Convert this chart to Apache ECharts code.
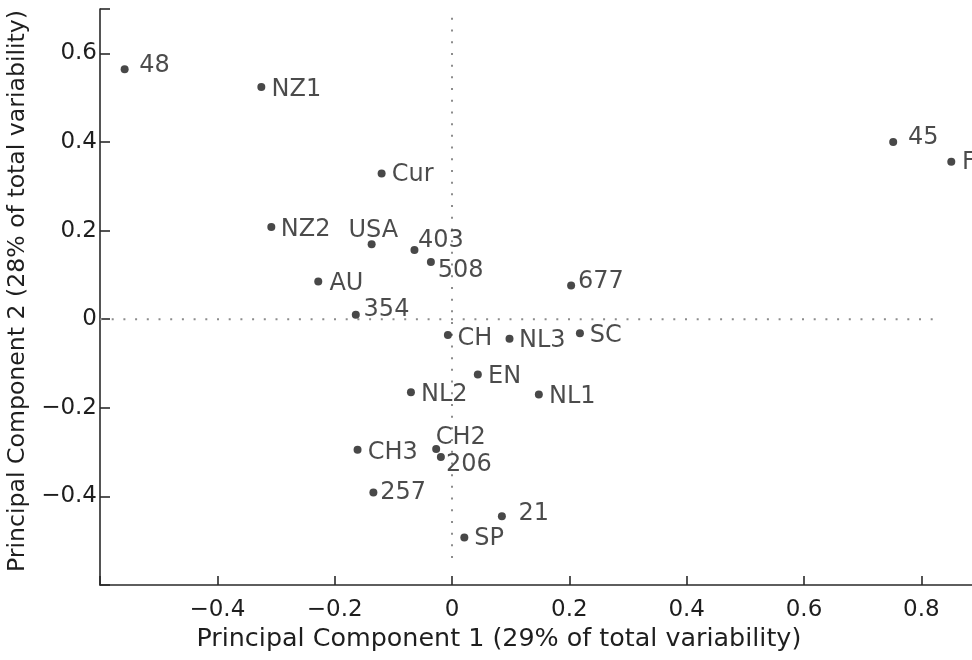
<!DOCTYPE html>
<html>
<head>
<meta charset="utf-8">
<script src="https://cdn.jsdelivr.net/npm/echarts@6/dist/echarts.min.js"></script>
<style>
html,body{margin:0;padding:0;background:#fff;overflow:hidden;width:972px;height:660px;}
#chart{width:1100px;height:660px;}
</style>
</head>
<body>
<div id="chart"></div>
<script>
// ---- data ----
const sampleNames = ['48','NZ1','Cur','NZ2','USA','403','508','AU','354','677','CH','NL3','SC','EN','NL2','NL1','CH2','206','CH3','257','21','SP','45','FR'];
const pc1 = [-0.558,-0.325,-0.120,-0.308,-0.137,-0.064,-0.036,-0.228,-0.164,0.203,-0.007,0.098,0.218,0.044,-0.070,0.148,-0.027,-0.019,-0.161,-0.134,0.085,0.021,0.752,0.851];
const pc2 = [0.564,0.524,0.329,0.208,0.169,0.156,0.129,0.085,0.010,0.076,-0.036,-0.044,-0.032,-0.125,-0.165,-0.170,-0.293,-0.311,-0.295,-0.391,-0.445,-0.493,0.400,0.355];
const xTicks = [-0.4,-0.2,0,0.2,0.4,0.6,0.8];
const yTicks = [-0.4,-0.2,0,0.2,0.4,0.6];
const zeroLineH = [[-0.6,0],[0.83,0]];
const zeroLineV = [[0,0.68],[0,-0.56]];
const xTitle = 'Principal Component 1 (29% of total variability)';
const yTitle = 'Principal Component 2 (28% of total variability)';

// ---- layout (label placement relative to marker, px) ----
const labelShift = [[16,-4],[11.7,1.6],[11.7,0.7],[11,1.6],[-21.7,-14.3],[5,-10],[8.3,7.3],[12.7,1],[9.3,-6],[8.4,-4.3],[11,2.6],[11,1.4],[11.3,1],[11.7,1],[11.6,1.6],[11.7,1.7],[1,-12.6],[6.6,6.7],[11.7,1.7],[8.4,-1],[18,-3.4],[11.4,0],[16.4,-5.4],[12.3,0]];

const FONT = 'DejaVu Sans';
const TXT = '#1e1e1e';
const AX = '#2a2a2a';

function fmt(list){
  return function(v){
    for (const t of list){ if (Math.abs(v - t) < 1e-6) return (t < 0 ? '\u2212' + String(-t) : String(t)); }
    return '';
  };
}

const points = pc1.map((x,i)=>({
  value:[x, pc2[i]],
  name: sampleNames[i],
  label:{offset:[labelShift[i][0]-5.5, labelShift[i][1]+1]}
}));

const chart = echarts.init(document.getElementById('chart'), null, {renderer:'canvas'});
chart.setOption({
  animation:false,
  backgroundColor:'#ffffff',
  grid:{left:100, top:9, width:938.7, height:576, containLabel:false, outerBoundsMode:'none'},
  xAxis:{
    type:'value', min:-0.6, max:1.0, interval:0.2,
    axisLine:{show:true, onZero:false, lineStyle:{color:AX, width:1.6}},
    axisTick:{show:true, inside:true, length:9, lineStyle:{color:AX, width:1.6}},
    splitLine:{show:false},
    axisLabel:{formatter:fmt(xTicks), fontFamily:FONT, fontSize:23, color:TXT, margin:14},
    name:xTitle, nameLocation:'middle', nameGap:42,
    nameTextStyle:{fontFamily:FONT, fontSize:25.4, color:TXT, padding:[0,141,0,0]}
  },
  yAxis:{
    type:'value', min:-0.6, max:0.7, interval:0.2,
    axisLine:{show:true, onZero:false, lineStyle:{color:AX, width:1.6}},
    axisTick:{show:true, inside:true, length:10, lineStyle:{color:AX, width:1.6}},
    splitLine:{show:false},
    axisLabel:{formatter:fmt(yTicks), fontFamily:FONT, fontSize:23, color:TXT, margin:3},
    name:yTitle, nameLocation:'middle', nameGap:49, nameRotate:90,
    nameTextStyle:{fontFamily:FONT, fontSize:23.6, color:TXT, padding:[0,0,0,12]}
  },
  series:[
    {type:'line', data:zeroLineH, symbol:'none', silent:true, z:1,
     lineStyle:{color:'#8c8c8c', width:2, type:[2,9.7]}},
    {type:'line', data:zeroLineV, symbol:'none', silent:true, z:1,
     lineStyle:{color:'#8c8c8c', width:2, type:[2,9.7]}},
    {type:'scatter', data:points, symbol:'circle', symbolSize:8, z:3,
     itemStyle:{color:'#1a1a1a'},
     label:{show:true, position:'right', distance:0, formatter:'{b}',
            fontFamily:FONT, fontSize:24, color:TXT}}
  ]
});
</script>
</body>
</html>
